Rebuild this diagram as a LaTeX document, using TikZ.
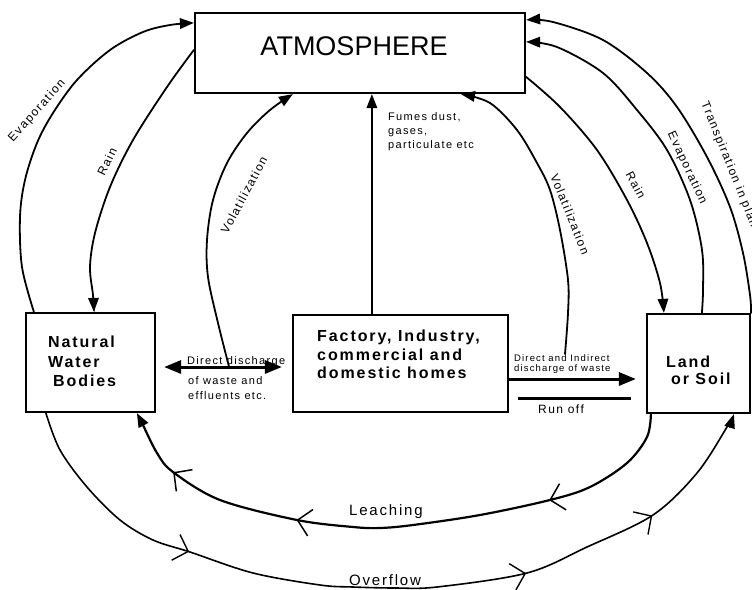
\documentclass[tikz,border=0pt]{standalone}
\usepackage{fontspec}
\setmainfont{Liberation Sans}
\newfontfamily\spaced[LetterSpace=12]{Liberation Sans}
\usetikzlibrary{arrows.meta,decorations.markings,calc}
\tikzset{
  openbarb/.tip={Straight Barb[length=13pt,width=27pt]},
  filltip/.tip={Triangle[length=14pt,width=10.5pt]},
  bigtip/.tip={Triangle[length=17pt,width=13pt]},
}
\begin{document}
\begin{tikzpicture}[x=1pt,y=-1pt,
  box/.style={draw,line width=2.2pt,inner sep=0pt},
  boxtxt/.style={align=left,inner sep=0pt},
  lbl/.style={inner sep=0pt,align=left},
  rlbl/.style={inner sep=0pt,font=\spaced\fontsize{12}{14}\selectfont},
  flow/.style={line width=1.8pt,line cap=round},
  flowtip/.style={flow,-{filltip}},
  sm/.style={smooth,tension=0.55}
]
\path[use as bounding box] (0,0) rectangle (752,589);
\clip (0,0) rectangle (752,589);

% boxes
\node[box,minimum width=330pt,minimum height=80pt] (atm) at (360,53) {};
\node[box,minimum width=129pt,minimum height=99pt] (nwb) at (90.5,362.5) {};
\node[box,minimum width=215pt,minimum height=97pt] (fac) at (400.5,363.5) {};
\node[box,minimum width=103pt,minimum height=99pt] (land) at (698.5,363.5) {};

% box texts
\node[inner sep=0pt,font=\fontsize{27}{30}\selectfont] (atmt) at (354,46) {ATMOSPHERE};
\node[boxtxt,anchor=north west,font=\spaced\bfseries\fontsize{16}{19.5}\selectfont] (nwbt) at (48,336) {Natural\\Water\\\hspace*{5pt}Bodies};
\node[boxtxt,anchor=north west,font=\spaced\bfseries\fontsize{16}{18.5}\selectfont] (fact) at (317,330) {Factory, Industry,\\commercial and\\domestic homes};
\node[boxtxt,anchor=north west,font=\spaced\bfseries\fontsize{16}{17}\selectfont] (landt) at (666,356) {Land\\\hspace*{5pt}or Soil};

% small labels
\node[lbl,anchor=north west,font=\spaced\fontsize{11}{14}\selectfont] (fumes) at (388,112) {Fumes dust,\\gases,\\particulate etc};
\node[lbl,anchor=base west,font=\spaced\fontsize{11}{14}\selectfont] (dd1) at (187,364) {Direct discharge};
\node[lbl,anchor=north west,font=\spaced\fontsize{11}{15}\selectfont] (dd2) at (188,376) {of waste and\\effluents etc.};
\node[lbl,anchor=north west,font=\spaced\fontsize{9.5}{10}\selectfont] (di) at (514,354) {Direct and Indirect\\discharge of waste};
\node[lbl,anchor=base west,font=\spaced\fontsize{12}{14}\selectfont] (ro) at (538,413) {Run off};
\node[lbl,anchor=base west,font=\spaced\fontsize{15}{17}\selectfont] (leach) at (349,515) {Leaching};
\node[lbl,anchor=base west,font=\spaced\fontsize{15}{17}\selectfont] (over) at (349,585) {Overflow};

% rotated labels
\node[rlbl,rotate=48] (evLt) at (37,111) {Evaporation};
\node[rlbl,rotate=64] (rLt) at (107,162) {Rain};
\node[rlbl,rotate=62] (vLt) at (244,195) {Volatilization};
\node[rlbl,rotate=-68] (vRt) at (570,214) {Volatilization};
\node[rlbl,rotate=-62] (rRt) at (636,185) {Rain};
\node[rlbl,rotate=-65] (eRt) at (687,168) {Evaporation};
\node[rlbl,rotate=-68,anchor=west] (tRt) at (704,102) {Transpiration in plants};

% connector end points
\coordinate (dL) at ($(nwb.east)+(8,4.5)$);
\coordinate (dR) at ($(fac.west)+(-10,3.5)$);
\coordinate (vLs) at ($(dL)+(65,0)$);
\coordinate (vRs) at (565,354);
\coordinate (fa) at ($(fac.north west)+(80,0)$);

% straight connectors
\draw[line width=3pt,{bigtip}-{bigtip}] (dL) -- (dR);
\draw[line width=3pt,-{bigtip},shorten >=10pt] (fac.east |- 0,379) -- (land.west |- 0,379);
\draw[line width=3pt] (518,398) coordinate (ro1) -- (631,398) coordinate (ro2);
\draw[line width=1.6pt,-{filltip}] (fa) -- (fa |- atm.south);

% left curves
\draw[flowtip] plot[sm] coordinates {($(nwb.north west)+(9,0)$) (22,267) (20,217) (25,180) (37,143) (53,113) (77,80) (110,50) (143,32) (170,25) ($(atm.north west)+(0,11)$)};
\draw[flowtip] plot[sm] coordinates {($(atm.north west)+(0,38)$) (167,87) (133,140) (110,187) (95,233) (90,267) (93,295) ($(nwb.north west)+(69,0)$)};
\draw[flowtip] plot[sm] coordinates {(vLs) (218,323) (208,277) (207,240) (213,200) (227,163) (247,133) (270,110) ($(atm.south west)+(99,0)$)};

% right curves
\draw[flowtip] plot[sm] coordinates {(vRs) (568,313) (568,280) (560,230) (550,190) (537,163) (517,130) (490,103) ($(atm.south west)+(267,0)$)};
\draw[flowtip] plot[sm] coordinates {($(atm.north east)+(0,65)$) (560,107) (597,150) (627,200) (647,243) (660,283) ($(land.north west)+(18,0)$)};
\draw[flowtip] plot[sm] coordinates {($(land.north west)+(56,0)$) (703,290) (702,250) (690,200) (667,150) (637,110) (603,73) (557,47) ($(atm.north east)+(0,30)$)};
\draw[flowtip] plot[sm] coordinates {(land.north east) (750,295) (743,253) (730,207) (707,157) (677,107) (647,73) (603,40) (553,22) ($(atm.north east)+(0,8)$)};

% bottom curves
\draw[flowtip,line width=2.2pt,postaction={decorate},
  decoration={markings,
    mark=at position 0.238 with {\arrow[line width=1.5pt]{openbarb}},
    mark=at position 0.662 with {\arrow[line width=1.5pt]{openbarb}},
    mark=at position 0.884 with {\arrow[line width=1.5pt]{openbarb}}}]
  plot[sm] coordinates {($(land.south west)+(5,0)$) (647,437) (627,463) (590,487) (550,500) (480,515) (413,525) (380,528) (353,527) (297,520) (220,500) (173,472) (157,453) (142,423) ($(nwb.south west)+(112,0)$)};
\draw[flowtip,line width=1.6pt,postaction={decorate},
  decoration={markings,
    mark=at position 0.254 with {\arrow[line width=1.4pt]{openbarb}},
    mark=at position 0.671 with {\arrow[line width=1.4pt]{openbarb}},
    mark=at position 0.84 with {\arrow[line width=1.4pt]{openbarb}}}]
  plot[sm] coordinates {($(nwb.south west)+(21,0)$) (60,450) (87,487) (120,520) (153,540) (190,552) (253,573) (320,585) (353,587) (395,588) (437,587) (527,573) (587,547) (653,515) (697,473) (727,427) ($(land.south west)+(88,0)$)};
\end{tikzpicture}
\end{document}
